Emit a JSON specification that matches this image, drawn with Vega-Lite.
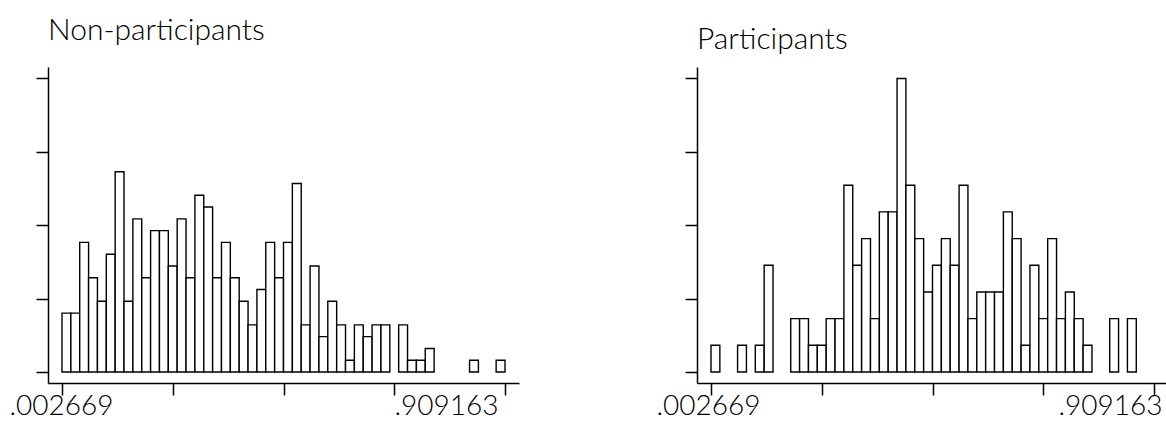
{
  "$schema": "https://vega.github.io/schema/vega-lite/v6.json",
  "background": "white",
  "padding": {"left": 9, "top": 16, "right": 0, "bottom": 0},
  "bounds": "flush",
  "spacing": 178,
  "config": {
    "view": {"stroke": null},
    "font": "Lato",
    "axis": {
      "grid": false,
      "domainColor": "#000",
      "domainWidth": 1.5,
      "tickColor": "#000",
      "tickWidth": 1.5,
      "tickSize": 12,
      "labelFont": "Lato",
      "labelFontSize": 28,
      "labelFontWeight": 300,
      "labelColor": "#000",
      "labelPadding": -3,
      "title": null
    },
    "title": {"font": "Lato", "fontSize": 30, "fontWeight": 300, "color": "#000", "anchor": "start", "baseline": "alphabetic", "frame": "group"}
  },
  "datasets": {
    "bins": [
      {"group": "Non-participants", "bin0": 0.002669, "bin1": 0.020799, "count": 5},
      {"group": "Non-participants", "bin0": 0.020799, "bin1": 0.038929, "count": 5},
      {"group": "Non-participants", "bin0": 0.038929, "bin1": 0.057059, "count": 11},
      {"group": "Non-participants", "bin0": 0.057059, "bin1": 0.075189, "count": 8},
      {"group": "Non-participants", "bin0": 0.075189, "bin1": 0.093318, "count": 6},
      {"group": "Non-participants", "bin0": 0.093318, "bin1": 0.111448, "count": 10},
      {"group": "Non-participants", "bin0": 0.111448, "bin1": 0.129578, "count": 17},
      {"group": "Non-participants", "bin0": 0.129578, "bin1": 0.147708, "count": 6},
      {"group": "Non-participants", "bin0": 0.147708, "bin1": 0.165838, "count": 13},
      {"group": "Non-participants", "bin0": 0.165838, "bin1": 0.183968, "count": 8},
      {"group": "Non-participants", "bin0": 0.183968, "bin1": 0.202098, "count": 12},
      {"group": "Non-participants", "bin0": 0.202098, "bin1": 0.220228, "count": 12},
      {"group": "Non-participants", "bin0": 0.220228, "bin1": 0.238357, "count": 9},
      {"group": "Non-participants", "bin0": 0.238357, "bin1": 0.256487, "count": 13},
      {"group": "Non-participants", "bin0": 0.256487, "bin1": 0.274617, "count": 8},
      {"group": "Non-participants", "bin0": 0.274617, "bin1": 0.292747, "count": 15},
      {"group": "Non-participants", "bin0": 0.292747, "bin1": 0.310877, "count": 14},
      {"group": "Non-participants", "bin0": 0.310877, "bin1": 0.329007, "count": 8},
      {"group": "Non-participants", "bin0": 0.329007, "bin1": 0.347137, "count": 11},
      {"group": "Non-participants", "bin0": 0.347137, "bin1": 0.365267, "count": 8},
      {"group": "Non-participants", "bin0": 0.365267, "bin1": 0.383396, "count": 6},
      {"group": "Non-participants", "bin0": 0.383396, "bin1": 0.401526, "count": 4},
      {"group": "Non-participants", "bin0": 0.401526, "bin1": 0.419656, "count": 7},
      {"group": "Non-participants", "bin0": 0.419656, "bin1": 0.437786, "count": 11},
      {"group": "Non-participants", "bin0": 0.437786, "bin1": 0.455916, "count": 8},
      {"group": "Non-participants", "bin0": 0.455916, "bin1": 0.474046, "count": 11},
      {"group": "Non-participants", "bin0": 0.474046, "bin1": 0.492176, "count": 16},
      {"group": "Non-participants", "bin0": 0.492176, "bin1": 0.510306, "count": 4},
      {"group": "Non-participants", "bin0": 0.510306, "bin1": 0.528435, "count": 9},
      {"group": "Non-participants", "bin0": 0.528435, "bin1": 0.546565, "count": 3},
      {"group": "Non-participants", "bin0": 0.546565, "bin1": 0.564695, "count": 6},
      {"group": "Non-participants", "bin0": 0.564695, "bin1": 0.582825, "count": 4},
      {"group": "Non-participants", "bin0": 0.582825, "bin1": 0.600955, "count": 1},
      {"group": "Non-participants", "bin0": 0.600955, "bin1": 0.619085, "count": 4},
      {"group": "Non-participants", "bin0": 0.619085, "bin1": 0.637215, "count": 3},
      {"group": "Non-participants", "bin0": 0.637215, "bin1": 0.655345, "count": 4},
      {"group": "Non-participants", "bin0": 0.655345, "bin1": 0.673474, "count": 4},
      {"group": "Non-participants", "bin0": 0.691604, "bin1": 0.709734, "count": 4},
      {"group": "Non-participants", "bin0": 0.709734, "bin1": 0.727864, "count": 1},
      {"group": "Non-participants", "bin0": 0.727864, "bin1": 0.745994, "count": 1},
      {"group": "Non-participants", "bin0": 0.745994, "bin1": 0.764124, "count": 2},
      {"group": "Non-participants", "bin0": 0.836643, "bin1": 0.854773, "count": 1},
      {"group": "Non-participants", "bin0": 0.891033, "bin1": 0.909163, "count": 1},
      {"group": "Participants", "bin0": 0.002669, "bin1": 0.020799, "count": 1},
      {"group": "Participants", "bin0": 0.057059, "bin1": 0.075189, "count": 1},
      {"group": "Participants", "bin0": 0.093318, "bin1": 0.111448, "count": 1},
      {"group": "Participants", "bin0": 0.111448, "bin1": 0.129578, "count": 4},
      {"group": "Participants", "bin0": 0.165838, "bin1": 0.183968, "count": 2},
      {"group": "Participants", "bin0": 0.183968, "bin1": 0.202098, "count": 2},
      {"group": "Participants", "bin0": 0.202098, "bin1": 0.220228, "count": 1},
      {"group": "Participants", "bin0": 0.220228, "bin1": 0.238357, "count": 1},
      {"group": "Participants", "bin0": 0.238357, "bin1": 0.256487, "count": 2},
      {"group": "Participants", "bin0": 0.256487, "bin1": 0.274617, "count": 2},
      {"group": "Participants", "bin0": 0.274617, "bin1": 0.292747, "count": 7},
      {"group": "Participants", "bin0": 0.292747, "bin1": 0.310877, "count": 4},
      {"group": "Participants", "bin0": 0.310877, "bin1": 0.329007, "count": 5},
      {"group": "Participants", "bin0": 0.329007, "bin1": 0.347137, "count": 2},
      {"group": "Participants", "bin0": 0.347137, "bin1": 0.365267, "count": 6},
      {"group": "Participants", "bin0": 0.365267, "bin1": 0.383396, "count": 6},
      {"group": "Participants", "bin0": 0.383396, "bin1": 0.401526, "count": 11},
      {"group": "Participants", "bin0": 0.401526, "bin1": 0.419656, "count": 7},
      {"group": "Participants", "bin0": 0.419656, "bin1": 0.437786, "count": 5},
      {"group": "Participants", "bin0": 0.437786, "bin1": 0.455916, "count": 3},
      {"group": "Participants", "bin0": 0.455916, "bin1": 0.474046, "count": 4},
      {"group": "Participants", "bin0": 0.474046, "bin1": 0.492176, "count": 5},
      {"group": "Participants", "bin0": 0.492176, "bin1": 0.510306, "count": 4},
      {"group": "Participants", "bin0": 0.510306, "bin1": 0.528435, "count": 7},
      {"group": "Participants", "bin0": 0.528435, "bin1": 0.546565, "count": 2},
      {"group": "Participants", "bin0": 0.546565, "bin1": 0.564695, "count": 3},
      {"group": "Participants", "bin0": 0.564695, "bin1": 0.582825, "count": 3},
      {"group": "Participants", "bin0": 0.582825, "bin1": 0.600955, "count": 3},
      {"group": "Participants", "bin0": 0.600955, "bin1": 0.619085, "count": 6},
      {"group": "Participants", "bin0": 0.619085, "bin1": 0.637215, "count": 5},
      {"group": "Participants", "bin0": 0.637215, "bin1": 0.655345, "count": 1},
      {"group": "Participants", "bin0": 0.655345, "bin1": 0.673474, "count": 4},
      {"group": "Participants", "bin0": 0.673474, "bin1": 0.691604, "count": 2},
      {"group": "Participants", "bin0": 0.691604, "bin1": 0.709734, "count": 5},
      {"group": "Participants", "bin0": 0.709734, "bin1": 0.727864, "count": 2},
      {"group": "Participants", "bin0": 0.727864, "bin1": 0.745994, "count": 3},
      {"group": "Participants", "bin0": 0.745994, "bin1": 0.764124, "count": 2},
      {"group": "Participants", "bin0": 0.764124, "bin1": 0.782254, "count": 1},
      {"group": "Participants", "bin0": 0.818513, "bin1": 0.836643, "count": 2},
      {"group": "Participants", "bin0": 0.854773, "bin1": 0.872903, "count": 2}
    ]
  },
  "hconcat": [
    {
      "width": 471,
      "height": 316,
      "title": {"text": "Non-participants", "offset": 21},
      "data": {"name": "bins"},
      "transform": [{"filter": "datum.group === 'Non-participants'"}],
      "mark": {"type": "bar", "fill": "white", "stroke": "#000", "strokeWidth": 1.4, "clip": false},
      "encoding": {
        "x": {"field": "bin0", "type": "quantitative", "scale": {"domain": [-0.02598, 0.93781], "nice": false, "zero": false},
          "axis": {"values": [0.002669, 0.229293, 0.455916, 0.68254, 0.909163],
            "labelExpr": "datum.value < 0.01 ? '.002669' : (datum.value > 0.9 ? '.909163' : '')",
            "labelAlign": {"condition": {"test": "datum.value > 0.9", "value": "right"}, "value": "center"},
            "labelOffset": {"condition": {"test": "datum.value > 0.9", "value": -7}, "value": -1},
            "labelBaseline": "top", "labelFlush": false, "labelOverlap": false}},
        "x2": {"field": "bin1"},
        "y": {"field": "count", "type": "quantitative", "scale": {"domain": [-0.935, 25.89], "nice": false, "zero": false},
          "axis": {"values": [0, 6.23, 12.46, 18.69, 24.92], "labels": false}},
        "y2": {"datum": 0}
      }
    },
    {
      "width": 471,
      "height": 316,
      "title": {"text": "Participants", "offset": 12},
      "data": {"name": "bins"},
      "transform": [{"filter": "datum.group === 'Participants'"}],
      "mark": {"type": "bar", "fill": "white", "stroke": "#000", "strokeWidth": 1.4, "clip": false},
      "encoding": {
        "x": {"field": "bin0", "type": "quantitative", "scale": {"domain": [-0.02598, 0.93781], "nice": false, "zero": false},
          "axis": {"values": [0.002669, 0.229293, 0.455916, 0.68254, 0.909163],
            "labelExpr": "datum.value < 0.01 ? '.002669' : (datum.value > 0.9 ? '.909163' : '')",
            "labelAlign": {"condition": {"test": "datum.value > 0.9", "value": "right"}, "value": "center"},
            "labelOffset": {"condition": {"test": "datum.value > 0.9", "value": 8}, "value": -3},
            "labelBaseline": "top", "labelFlush": false, "labelOverlap": false}},
        "x2": {"field": "bin1"},
        "y": {"field": "count", "type": "quantitative", "scale": {"domain": [-0.4125, 11.43], "nice": false, "zero": false},
          "axis": {"values": [0, 2.75, 5.5, 8.25, 11], "labels": false}},
        "y2": {"datum": 0}
      }
    }
  ]
}
